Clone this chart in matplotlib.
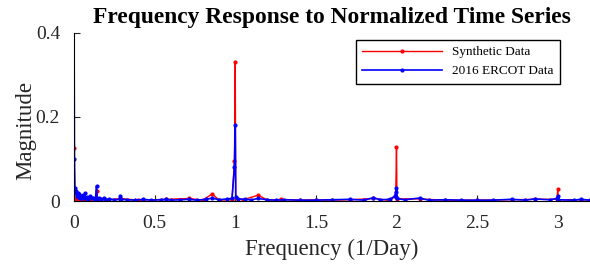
import matplotlib.pyplot as plt

plt.rcParams['font.family'] = ['Liberation Serif', 'DejaVu Serif']

# ERCOT 2016 spectrum (frequency in 1/day, magnitude)
ercot_freq = [0.000, 0.003, 0.006, 0.010, 0.014, 0.018, 0.022, 0.027, 0.032, 0.037,
              0.042, 0.048, 0.055, 0.062, 0.068, 0.072, 0.080, 0.090, 0.100, 0.110,
              0.120, 0.133, 0.140, 0.143, 0.155, 0.170, 0.185, 0.200, 0.220, 0.250,
              0.283, 0.286, 0.290, 0.330, 0.380, 0.430, 0.480, 0.540, 0.571, 0.600,
              0.660, 0.714, 0.760, 0.820, 0.857, 0.900, 0.950, 0.980, 0.995, 1.000,
              1.003, 1.020, 1.060, 1.100, 1.143, 1.200, 1.250, 1.300, 1.400, 1.500,
              1.600, 1.714, 1.800, 1.857, 1.900, 1.960, 1.990, 1.995, 2.000, 2.003,
              2.050, 2.143, 2.200, 2.300, 2.400, 2.500, 2.600, 2.714, 2.800, 2.857,
              2.950, 2.995, 3.000, 3.003, 3.100, 3.143, 3.200]
ercot_mag = [0.450, 0.100, 0.030, 0.018, 0.025, 0.012, 0.020, 0.010, 0.016, 0.008,
             0.012, 0.006, 0.014, 0.007, 0.018, 0.006, 0.010, 0.005, 0.012, 0.006,
             0.008, 0.005, 0.036, 0.005, 0.008, 0.004, 0.007, 0.003, 0.005, 0.003,
             0.004, 0.013, 0.004, 0.003, 0.002, 0.004, 0.002, 0.003, 0.004, 0.002,
             0.003, 0.004, 0.002, 0.004, 0.007, 0.003, 0.005, 0.006, 0.080, 0.181,
             0.010, 0.005, 0.004, 0.003, 0.006, 0.003, 0.002, 0.003, 0.002, 0.002,
             0.003, 0.004, 0.002, 0.008, 0.003, 0.004, 0.012, 0.022, 0.031, 0.006,
             0.003, 0.007, 0.002, 0.003, 0.002, 0.002, 0.002, 0.004, 0.002, 0.005,
             0.003, 0.006, 0.012, 0.003, 0.002, 0.004, 0.002]

# synthetic spectrum
synth_freq = [0.000, 0.003, 0.006, 0.012, 0.020, 0.030, 0.045, 0.060, 0.080, 0.100,
              0.140, 0.143, 0.146, 0.200, 0.286, 0.400, 0.571, 0.714, 0.800, 0.857,
              0.900, 0.980, 0.995, 1.000, 1.003, 1.050, 1.143, 1.200, 1.286, 1.400,
              1.500, 1.600, 1.714, 1.857, 1.950, 1.995, 2.000, 2.003, 2.143, 2.300,
              2.500, 2.714, 2.857, 2.995, 3.000, 3.003, 3.143, 3.200]
synth_mag = [0.126, 0.020, 0.005, 0.002, 0.006, 0.003, 0.001, 0.004, 0.002, 0.003,
             0.004, 0.024, 0.003, 0.002, 0.006, 0.002, 0.004, 0.006, 0.002, 0.017,
             0.002, 0.003, 0.095, 0.331, 0.006, 0.003, 0.014, 0.002, 0.004, 0.002,
             0.003, 0.002, 0.003, 0.006, 0.002, 0.010, 0.129, 0.005, 0.005, 0.002,
             0.002, 0.003, 0.004, 0.004, 0.029, 0.003, 0.003, 0.002]

xticks = [0, 0.5, 1, 1.5, 2, 2.5, 3]
xtick_labels = ['0', '0.5', '1', '1.5', '2', '2.5', '3']
yticks = [0, 0.2, 0.4]
ytick_labels = ['0', '0.2', '0.4']

fig = plt.figure(figsize=(5.9, 2.72), dpi=100)
ax = fig.add_axes([0.1254, 0.261, 0.8746, 0.618])

ax.plot(synth_freq, synth_mag, '.-', color='red', lw=1.0, ms=4, label='Synthetic Data')
ax.plot(ercot_freq, ercot_mag, '.-', color='blue', lw=1.2, ms=4, label='2016 ERCOT Data')

ax.set_xlim(0, 3.2)
ax.set_ylim(0, 0.4)
ax.set_xticks(xticks)
ax.set_xticklabels(xtick_labels)
ax.set_yticks(yticks)
ax.set_yticklabels(ytick_labels)
ax.tick_params(direction='in', length=4, labelsize=14, colors='#262626')
ax.tick_params(axis='x', pad=10)
ax.tick_params(axis='y', pad=10)
for s in ['top', 'right']:
    ax.spines[s].set_visible(False)

ax.set_xlabel('Frequency (1/Day)', fontsize=16.5, color='#262626', labelpad=5)
ax.set_ylabel('Magnitude', fontsize=16.5, color='#262626')
ax.yaxis.set_label_coords(-0.074, 0.42)
ax.set_title('Frequency Response to Normalized Time Series', fontsize=16.9,
             fontweight='bold', pad=7)

ax.legend(loc='upper right', bbox_to_anchor=(0.955, 1.0), fontsize=9.5, fancybox=False,
          edgecolor='black', framealpha=1, handlelength=6.0, borderpad=0.5)

fig.savefig('out.png', dpi=100)
